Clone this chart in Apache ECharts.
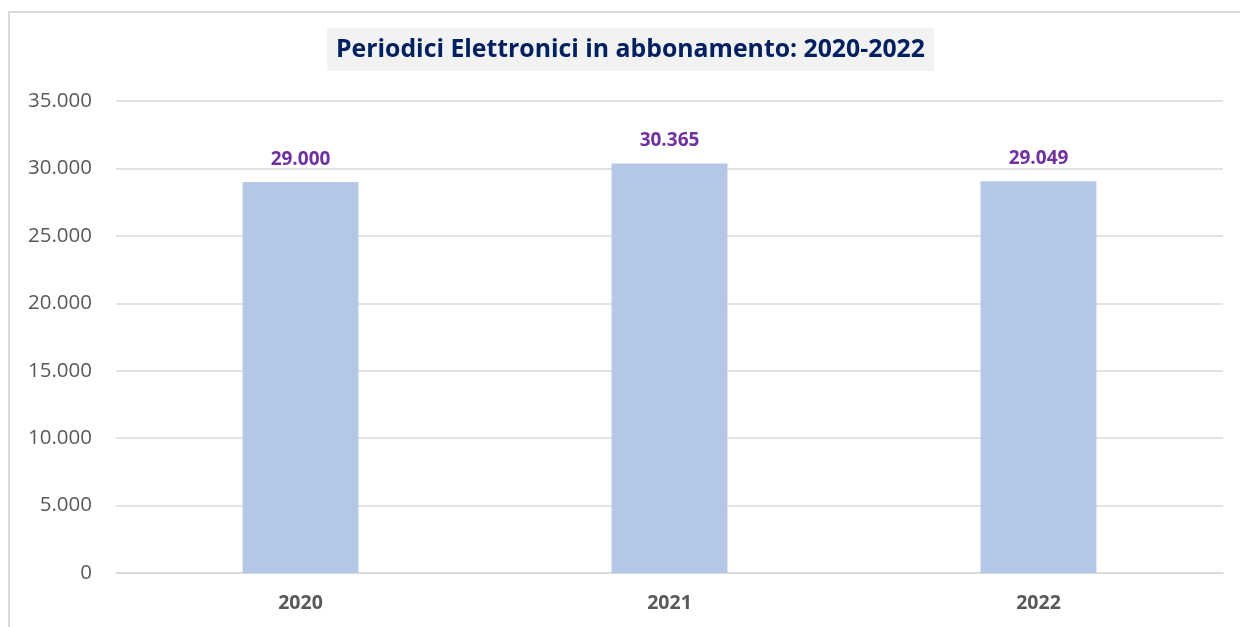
<!DOCTYPE html>
<html>
<head>
<meta charset="utf-8">
<script src="https://cdn.jsdelivr.net/npm/echarts@6/dist/echarts.min.js"></script>
<style>
  html, body { margin: 0; padding: 0; background: #fff; }
  #chart { width: 1240px; height: 627px; }
</style>
</head>
<body>
<div id="chart"></div>
<script>
// dati
const years = ['2020', '2021', '2022'];
const periodici = [29000, 30365, 29049];
const yTicks = [0, 5000, 10000, 15000, 20000, 25000, 30000, 35000];

const FONT = '"Open Sans", "Noto Sans", sans-serif';

// 29000 -> "29.000"
let fmt = function (v) {
  return String(v).replace(/\B(?=(\d{3})+(?!\d))/g, '.');
};

let chart = echarts.init(document.getElementById('chart'));
chart.setOption({
  animation: false,
  title: {
    text: 'Periodici Elettronici in abbonamento: 2020-2022',
    left: 327,
    top: 28,
    backgroundColor: '#f2f2f2',
    padding: [9, 9, 9, 9],
    textStyle: { color: '#002060', fontFamily: FONT, fontWeight: 'bold', fontSize: 24.8 }
  },
  graphic: [{
    type: 'rect',
    shape: { x: 9, y: 12, width: 1300, height: 700 },
    style: { fill: 'none', stroke: '#d9d9d9', lineWidth: 2 },
    silent: true
  }],
  grid: { left: 116, right: 17, top: 101, bottom: 54, containLabel: false },
  xAxis: {
    type: 'category',
    data: years,
    axisTick: { show: false },
    axisLine: { lineStyle: { color: '#d9d9d9', width: 1.5 } },
    axisLabel: { color: '#595959', fontFamily: FONT, fontWeight: 'bold', fontSize: 19.5, margin: 20 }
  },
  yAxis: {
    type: 'value',
    min: yTicks[0],
    max: yTicks[yTicks.length - 1],
    interval: 5000,
    axisLine: { show: false },
    axisTick: { show: false },
    splitLine: { lineStyle: { color: '#d9d9d9', width: 1.5 } },
    axisLabel: { color: '#595959', fontFamily: FONT, fontSize: 20.5, margin: 24, formatter: fmt }
  },
  series: [{
    type: 'bar',
    data: periodici,
    barWidth: '31.4%',
    itemStyle: { color: '#b4c7e7' },
    label: {
      show: true,
      position: 'top',
      distance: 13,
      color: '#7030a0',
      fontFamily: FONT,
      fontWeight: 'bold',
      fontSize: 19,
      formatter: p => fmt(p.value)
    }
  }]
});
</script>
</body>
</html>
